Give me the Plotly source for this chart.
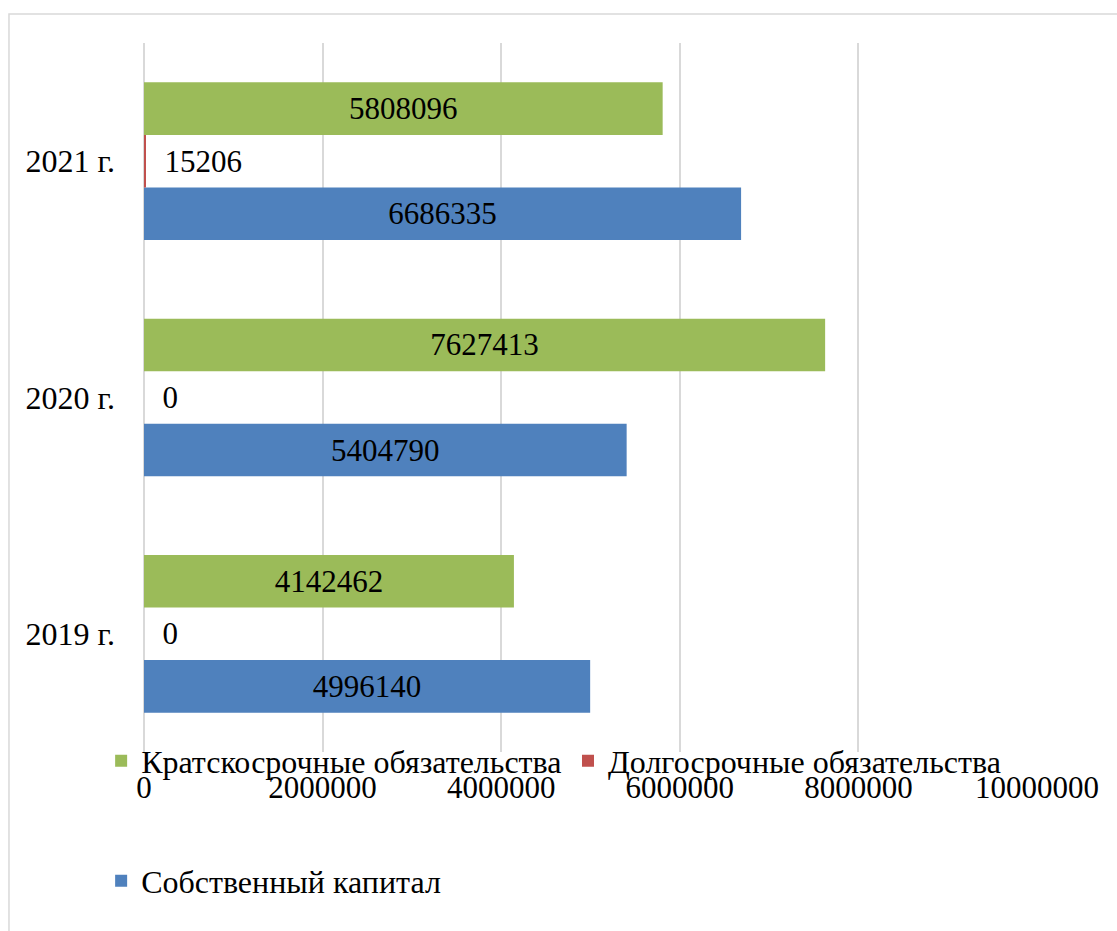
import plotly.graph_objects as go

categories = ["2019 г.", "2020 г.", "2021 г."]
short_term = [4142462, 7627413, 5808096]
long_term = [0, 0, 15206]
equity = [4996140, 5404790, 6686335]
x_ticks = [0, 2000000, 4000000, 6000000, 8000000, 10000000]

FONT = "Liberation Serif"

fig = go.Figure()
fig.add_trace(go.Bar(
    y=categories, x=equity, orientation="h", name="Собственный капитал",
    marker=dict(color="#4F81BD", line=dict(width=0)),
    text=[str(v) for v in equity], textposition="inside", insidetextanchor="middle",
    insidetextfont=dict(color="black", size=31, family=FONT),
    legend="legend3", showlegend=True,
))
fig.add_trace(go.Bar(
    y=categories, x=long_term, orientation="h", name="Долгосрочные обязательства",
    marker=dict(color="#C0504D", line=dict(width=0)),
    text=["\u00a0\u00a0" + str(v) for v in long_term], textposition="outside",
    outsidetextfont=dict(color="black", size=31, family=FONT),
    cliponaxis=False,
    legend="legend2", showlegend=True,
))
fig.add_trace(go.Bar(
    y=categories, x=short_term, orientation="h", name="Кратскосрочные обязательства",
    marker=dict(color="#9BBB59", line=dict(width=0)),
    text=[str(v) for v in short_term], textposition="inside", insidetextanchor="middle",
    insidetextfont=dict(color="black", size=31, family=FONT),
    legend="legend", showlegend=True,
))

leg_font = dict(family=FONT, size=32, color="black")
fig.update_layout(
    width=1117, height=931,
    showlegend=True,
    margin=dict(l=144, r=80, t=43, b=179, autoexpand=False),
    paper_bgcolor="white", plot_bgcolor="white",
    barmode="group", bargap=0.333, bargroupgap=0,
    font=dict(family=FONT, size=31, color="black"),
    xaxis=dict(
        range=[0, 10000000], tickvals=x_ticks, ticktext=[str(v) for v in x_ticks],
        showgrid=True, gridcolor="#d9d9d9", gridwidth=1.5,
        zeroline=True, zerolinecolor="#d9d9d9", zerolinewidth=1.5,
        showline=False, ticks="", ticklabelstandoff=14,
        tickfont=dict(family=FONT, size=31, color="black"),
    ),
    yaxis=dict(
        showgrid=False, zeroline=False, showline=False, ticks="",
        ticklabelstandoff=28,
        tickfont=dict(family=FONT, size=32, color="black"),
    ),
    legend=dict(orientation="h", x=-0.048, xanchor="left", y=-0.0125, yanchor="middle",
                font=leg_font, bgcolor="rgba(0,0,0,0)"),
    legend2=dict(orientation="h", x=0.4748, xanchor="left", y=-0.0125, yanchor="middle",
                 font=leg_font, bgcolor="rgba(0,0,0,0)"),
    legend3=dict(orientation="h", x=-0.048, xanchor="left", y=-0.182, yanchor="middle",
                 font=leg_font, bgcolor="rgba(0,0,0,0)"),
    shapes=[dict(type="rect", xref="paper", yref="paper",
                 x0=-0.1512, x1=1.2, y0=-0.5, y1=1.0409,
                 line=dict(color="#d9d9d9", width=1.5), fillcolor="rgba(0,0,0,0)",
                 layer="below")],
)

fig.write_html("out.html")
